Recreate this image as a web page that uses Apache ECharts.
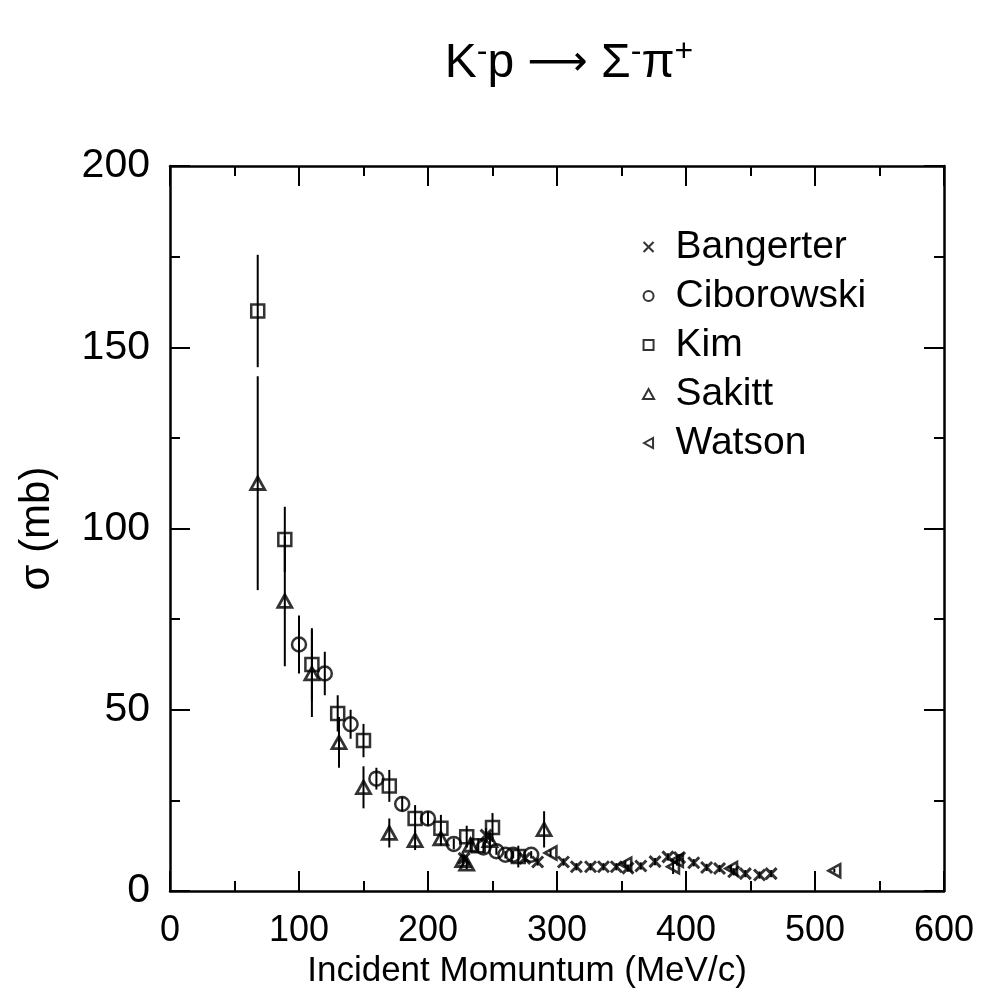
<!DOCTYPE html>
<html>
<head>
<meta charset="utf-8">
<script src="https://cdn.jsdelivr.net/npm/echarts@6/dist/echarts.min.js"></script>
<style>
html,body{margin:0;padding:0;background:#fff;}
#c{width:986px;height:1000px;}
</style>
</head>
<body>
<div id="c"></div>
<script>
// ---- data ----
const xTicks = [0, 100, 200, 300, 400, 500, 600];
const yTicks = [0, 50, 100, 150, 200];
const seriesNames = ['Bangerter', 'Ciborowski', 'Kim', 'Sakitt', 'Watson'];

const bangerterX = [228, 245, 275, 285, 305, 315, 326, 336, 346, 355, 365, 376, 386, 395, 406, 416, 426, 437, 446, 457, 466];
const bangerterY = [9, 15.4, 9, 8, 8, 6.7, 6.7, 6.7, 6.7, 6.3, 6.9, 8.1, 9.4, 9.2, 7.8, 6.5, 6.2, 5.3, 4.8, 4.4, 4.8];
const bangerterE = [1, 2, 1, 1, 1, 1, 1, 1, 1, 1, 1, 1, 1, 1, 1, 1, 1, 1, 1, 1, 1];

const ciborowskiX = [100, 120, 140, 160, 180, 200, 220, 243, 253, 260, 266, 280];
const ciborowskiY = [68, 60, 46, 31, 24, 20, 13, 12, 11, 10, 10, 10];
const ciborowskiE = [8, 6, 4, 3, 2, 2, 1.5, 1.5, 1, 1, 1, 1];

const kimX = [68, 89, 110, 130, 150, 170, 190, 210, 230, 239, 250, 270];
const kimY = [160, 97, 62.5, 49, 41.5, 29, 20, 17.3, 15, 12.5, 17.5, 9.5];
const kimE = [15.5, 9, 10, 5, 4.6, 4.4, 3.7, 3.7, 3, 2, 4, 3];

const sakittX = [68, 89, 110, 131, 150, 170, 190, 210, 227, 230, 233, 248, 290];
const sakittY = [112.5, 80, 60, 41, 28.6, 16, 14, 14.5, 8.5, 7.5, 12.7, 14, 17];
const sakittE = [29.5, 18, 12, 7, 5.8, 4, 2.7, 2, 1.5, 1.5, 2, 2, 5];

const watsonX = [295, 353, 390, 393, 435, 515];
const watsonY = [10.5, 7.4, 6.7, 8.5, 6.2, 5.6];
const watsonE = [1, 1, 2, 1.5, 1, 0.5];

// ---- build ----
const FONT = '"Liberation Sans", Arial, Helvetica, sans-serif';
function pts(xs, ys) { return xs.map((x, i) => [x, ys[i]]); }
function errs(xs, ys, es) { return xs.map((x, i) => [x, ys[i] - es[i], ys[i] + es[i]]); }

const allErr = [].concat(
  errs(bangerterX, bangerterY, bangerterE),
  errs(ciborowskiX, ciborowskiY, ciborowskiE),
  errs(kimX, kimY, kimE),
  errs(sakittX, sakittY, sakittE),
  errs(watsonX, watsonY, watsonE)
);

const symbols = {
  Bangerter: 'path://M0,0L10,10M10,0L0,10',
  Ciborowski: 'circle',
  Kim: 'path://M0,0L10,0L10,10L0,10Z',
  Sakitt: 'path://M5,0L10,9L0,9Z',
  Watson: 'path://M0,5L9,0L9,10Z'
};
const sizes = { Bangerter: 11, Ciborowski: 14, Kim: 13, Sakitt: 14, Watson: 13 };
const widths = { Bangerter: 3, Ciborowski: 2.5, Kim: 2.5, Sakitt: 2.8, Watson: 2.6 };
const dataMap = {
  Bangerter: pts(bangerterX, bangerterY),
  Ciborowski: pts(ciborowskiX, ciborowskiY),
  Kim: pts(kimX, kimY),
  Sakitt: pts(sakittX, sakittY),
  Watson: pts(watsonX, watsonY)
};

const chart = echarts.init(document.getElementById('c'), null, { renderer: 'canvas' });

const axisCommon = {
  axisLine: { show: true, onZero: false, lineStyle: { color: '#000', width: 2.5 } },
  axisTick: { show: true, inside: true, length: 20, lineStyle: { color: '#000', width: 2 } },
  minorTick: { show: true, splitNumber: 2, length: 10, lineStyle: { color: '#000', width: 2 } },
  splitLine: { show: false },
  minorSplitLine: { show: false }
};

const series = [{
  type: 'custom',
  name: 'errors',
  data: allErr,
  encode: { x: 0, y: [1, 2] },
  z: 1,
  silent: true,
  renderItem: function (params, api) {
    const p1 = api.coord([api.value(0), api.value(1)]);
    const p2 = api.coord([api.value(0), api.value(2)]);
    return { type: 'line', shape: { x1: p1[0], y1: p1[1], x2: p2[0], y2: p2[1] },
      style: { stroke: '#000', lineWidth: 2 } };
  }
}];
seriesNames.forEach(n => {
  series.push({
    type: 'scatter',
    name: n,
    data: dataMap[n],
    symbol: symbols[n],
    symbolSize: sizes[n],
    symbolKeepAspect: true,
    z: 3,
    itemStyle: { color: 'rgba(0,0,0,0)', borderColor: '#000', borderWidth: widths[n] }
  });
});

chart.setOption({
  animation: false,
  backgroundColor: '#fff',
  textStyle: { fontFamily: FONT, color: '#000' },
  grid: { left: 170, right: 42, top: 166, bottom: 109 },
  graphic: [{
    type: 'text',
    x: 569, y: 64,
    style: {
      text: '{n|K}{s|-}{n|p }{a|\u27F6}{n| \u03A3}{s|-}{n|\u03C0}{s|+}',
      align: 'center', verticalAlign: 'middle',
      fill: '#000',
      rich: {
        n: { fontFamily: FONT, fontSize: 48, lineHeight: 56, fill: '#000' },
        a: { fontFamily: '"DejaVu Sans", sans-serif', fontSize: 42, lineHeight: 56, fill: '#000' },
        s: { fontFamily: FONT, fontSize: 32, lineHeight: 30, verticalAlign: 'top', fill: '#000' }
      }
    }
  }],
  legend: {
    data: seriesNames,
    orient: 'vertical',
    left: 637, top: 222,
    itemWidth: 44, itemHeight: 10, itemGap: 9,
    symbolKeepAspect: true,
    textStyle: { fontFamily: FONT, fontSize: 39, lineHeight: 40, color: '#000' },
    selectedMode: false
  },
  xAxis: [Object.assign({
    type: 'value', position: 'bottom', min: 0, max: 600, interval: 100,
    name: 'Incident Momuntum (MeV/c)', nameLocation: 'middle', nameGap: 57,
    nameTextStyle: { fontFamily: FONT, fontSize: 35, color: '#000', padding: [0, 60, 0, 0] },
    axisLabel: { show: true, fontFamily: FONT, fontSize: 36, color: '#000', margin: 22,
      formatter: v => xTicks.indexOf(v) >= 0 ? String(v) : '' }
  }, axisCommon), Object.assign({
    type: 'value', position: 'top', min: 0, max: 600, interval: 100,
    axisLabel: { show: false }
  }, axisCommon)],
  yAxis: [Object.assign({
    type: 'value', position: 'left', min: 0, max: 200, interval: 50,
    name: '\u03C3 (mb)', nameLocation: 'middle', nameGap: 112, nameRotate: 90,
    nameTextStyle: { fontFamily: FONT, fontSize: 42, color: '#000' },
    axisLabel: { show: true, fontFamily: FONT, fontSize: 41, color: '#000', margin: 20,
      formatter: v => yTicks.indexOf(v) >= 0 ? String(v) : '' }
  }, axisCommon), Object.assign({
    type: 'value', position: 'right', min: 0, max: 200, interval: 50,
    axisLabel: { show: false }
  }, axisCommon)],
  series: series
});
</script>
</body>
</html>
